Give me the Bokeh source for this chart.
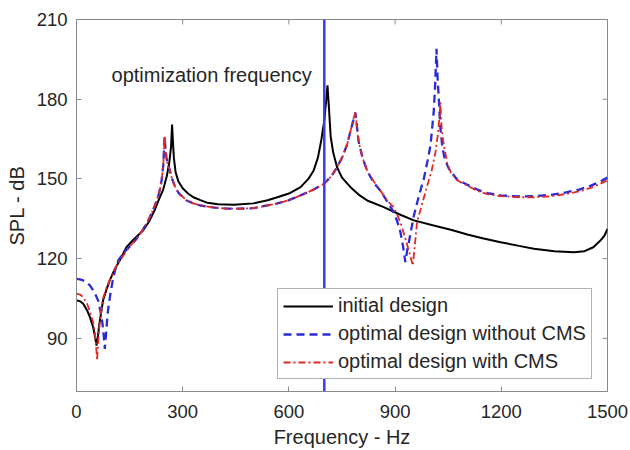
import math
from bokeh.plotting import figure
from bokeh.models import (Range1d, FixedTicker, Span, Legend, LegendItem, Label)
from bokeh.embed import file_html
from bokeh.resources import INLINE

# ---- data ----
initial_freq = [0, 10, 19, 30, 38, 47, 52, 56.5, 60, 64, 70, 75, 85, 94, 108, 122, 141, 160,
                188, 205, 220, 232, 245, 255, 262, 267, 270, 272, 275, 280, 288, 300, 315, 330,
                350, 370, 400, 444, 500, 540, 565, 600, 633, 655, 670, 682, 692, 700, 705, 709,
                713, 718, 725, 736, 750, 774, 800, 821, 868, 910, 953, 1009, 1060, 1104, 1150,
                1198, 1250, 1292, 1350, 1405, 1435, 1460, 1480, 1492, 1500]
initial_db = [104.3, 104, 103, 100.5, 98, 94.2, 91, 87.3, 90, 95, 100, 104.3, 108.5, 111.8, 116,
              119.3, 124.3, 127, 130.6, 134, 138, 142, 146, 151, 156, 162, 170.5, 165, 158,
              152.5, 149, 146.5, 144.5, 143.1, 142, 141, 140.5, 140.3, 140.8, 142, 143, 144.5,
              146.9, 150, 153.2, 158, 165, 172, 179, 185.2, 177, 166, 160, 154.4, 150.5, 146.9,
              143.8, 141.9, 139.4, 136.8, 134.4, 132.5, 130.8, 129.1, 127.6, 126.2, 124.8,
              123.7, 122.8, 122.4, 122.8, 124.3, 126.8, 128.8, 131.2]

nocms_freq = [0, 10, 19, 30, 38, 50, 61, 68, 73, 77, 80, 83, 86, 89, 96, 104, 111, 118, 135,
              150, 170, 188, 205, 220, 232, 240, 245, 249, 251, 254, 258, 263, 270, 280, 290,
              311, 330, 350, 390, 424, 460, 500, 565, 600, 633, 670, 699, 720, 736, 752, 765,
              775, 783, 788, 792, 797, 808, 821, 840, 859, 880, 896, 906, 915, 922, 929, 934,
              940, 953, 967, 981, 992, 1000, 1009, 1013, 1017, 1020, 1024, 1028, 1033, 1040,
              1052, 1075, 1104, 1132, 1160, 1198, 1250, 1292, 1340, 1386, 1420, 1450, 1480,
              1500]
nocms_db = [112.4, 112.2, 111.8, 111, 109.9, 107.5, 104.3, 100, 96, 91, 86, 91, 96, 100.5, 107,
            113, 116.5, 119.3, 122.5, 124.5, 127.5, 131, 135, 139.5, 144, 149, 155, 166, 162,
            158, 155.5, 153.5, 150, 146.5, 144.5, 141.9, 140.8, 140, 139.2, 138.8, 138.8, 139,
            140.7, 142, 143.8, 146, 148.2, 151, 154.4, 158.5, 163.2, 168.5, 172.5, 175, 170,
            164, 158, 153, 148.5, 145.5, 141, 137.5, 134, 130, 125, 118.7, 123, 127, 136.2,
            143.5, 150, 157, 162.6, 175.1, 185, 199, 188, 178.9, 169, 162.6, 157.5, 153.8,
            149.8, 147.8, 146, 144.7, 143.8, 143.4, 143.5, 144, 145, 146, 147.3, 149, 150.5]

cms_freq = [0, 10, 19, 30, 38, 47, 52, 56, 58, 60, 63, 68, 75, 85, 94, 108, 122, 150, 170,
            188, 205, 220, 232, 240, 245, 249, 251, 254, 258, 263, 270, 280, 290, 311, 330,
            350, 390, 424, 460, 500, 565, 600, 633, 670, 699, 720, 736, 752, 765, 775, 783,
            788, 792, 797, 808, 821, 840, 859, 880, 896, 906, 918, 929, 940, 950, 955, 962,
            975, 991, 1003, 1014, 1020, 1024, 1028, 1031, 1035, 1038, 1047, 1057, 1075, 1104,
            1132, 1160, 1198, 1250, 1292, 1340, 1386, 1420, 1450, 1480, 1500]
cms_db = [106.8, 106.5, 105.5, 103, 100, 96, 92, 86, 81.7, 86, 92, 99, 105, 109, 112, 116,
          119.3, 124.5, 127.5, 131, 135, 139.5, 144, 149, 155, 166.3, 162, 158, 155.5, 153.5,
          150, 146.5, 144.5, 141.9, 140.8, 140, 139.2, 138.8, 138.8, 139, 140.7, 142, 143.8,
          146, 148.2, 151, 154.4, 158.5, 163.2, 168.5, 173, 175.1, 170, 164, 158, 153.2, 149,
          145.5, 141.5, 139.4, 136.5, 132.5, 127.5, 122.5, 117.4, 124, 133.7, 140, 147.5, 153,
          160, 166, 171.3, 178.9, 170, 165, 162.6, 156, 152.5, 149.5, 147.5, 145.5, 144.3,
          143.5, 143.1, 143.1, 143.5, 144.4, 145.3, 146.5, 148.2, 149.5]

optimization_frequency = 700
x_ticks = [0, 300, 600, 900, 1200, 1500]
y_ticks = [90, 120, 150, 180, 210]
labels = ["initial design", "optimal design without CMS", "optimal design with CMS"]

FONT = "Liberation Sans"
AXIS_GRAY = "#8a8a8a"
TEXT = "#262626"
X_MIN, X_MAX, Y_MIN, Y_MAX = 0, 1500, 70, 210

p = figure(width=630, height=450, output_backend="svg", toolbar_location=None,
           x_range=Range1d(X_MIN, X_MAX), y_range=Range1d(Y_MIN, Y_MAX),
           min_border_left=76, min_border_right=23, min_border_top=19, min_border_bottom=59)
p.grid.visible = False
p.outline_line_color = AXIS_GRAY
p.background_fill_color = "white"
p.border_fill_color = "white"

for ax in (p.xaxis[0], p.yaxis[0]):
    ax.major_tick_in = 5
    ax.major_tick_out = 0
    ax.minor_tick_line_color = None
    ax.axis_line_color = AXIS_GRAY
    ax.major_tick_line_color = AXIS_GRAY
    ax.major_label_text_font = FONT
    ax.major_label_text_font_size = "18.5px"
    ax.major_label_text_color = TEXT
    ax.axis_label_text_font = FONT
    ax.axis_label_text_font_size = "20px"
    ax.axis_label_text_font_style = "normal"
    ax.axis_label_text_color = TEXT

p.xaxis[0].ticker = FixedTicker(ticks=x_ticks)
p.yaxis[0].ticker = FixedTicker(ticks=y_ticks)
p.xaxis[0].axis_label = "Frequency - Hz"
p.yaxis[0].axis_label = "SPL - dB"
p.xaxis[0].major_label_standoff = 13
p.yaxis[0].major_label_standoff = 9
p.xaxis[0].axis_label_standoff = 5
p.yaxis[0].axis_label_standoff = 6

# inward ticks on the top and right edges of the box
p.scatter(x_ticks, [Y_MAX] * len(x_ticks), marker="dash", size=10, angle=math.pi / 2,
          line_color=AXIS_GRAY, line_width=1)
p.scatter([X_MAX] * len(y_ticks), y_ticks, marker="dash", size=10,
          line_color=AXIS_GRAY, line_width=1)

p.add_layout(Span(location=optimization_frequency, dimension="height",
                  line_color="#3b3bf5", line_width=2.5))

r0 = p.line(initial_freq, initial_db, line_color="black", line_width=2)
r1 = p.line(nocms_freq, nocms_db, line_color="#2a2ad8", line_width=2.3, line_dash="8 5")
r2 = p.line(cms_freq, cms_db, line_color="#e02828", line_width=1.8, line_dash="7 3 2 3")

p.add_layout(Label(x=99, y=189, text="optimization frequency", text_font=FONT,
                   text_font_size="20px", text_color=TEXT, text_baseline="middle"))

legend = Legend(items=[LegendItem(label=labels[0], renderers=[r0]),
                       LegendItem(label=labels[1], renderers=[r1]),
                       LegendItem(label=labels[2], renderers=[r2])],
                location=(201, 12), orientation="vertical",
                label_text_font=FONT, label_text_font_size="20px", label_text_color=TEXT,
                glyph_width=50, glyph_height=22, label_height=22, label_standoff=5,
                spacing=5, padding=5, margin=0,
                border_line_color="#666666", border_line_width=1,
                background_fill_color="white", background_fill_alpha=1)
p.add_layout(legend, "center")

open("out.html", "w").write(file_html(p, INLINE))
